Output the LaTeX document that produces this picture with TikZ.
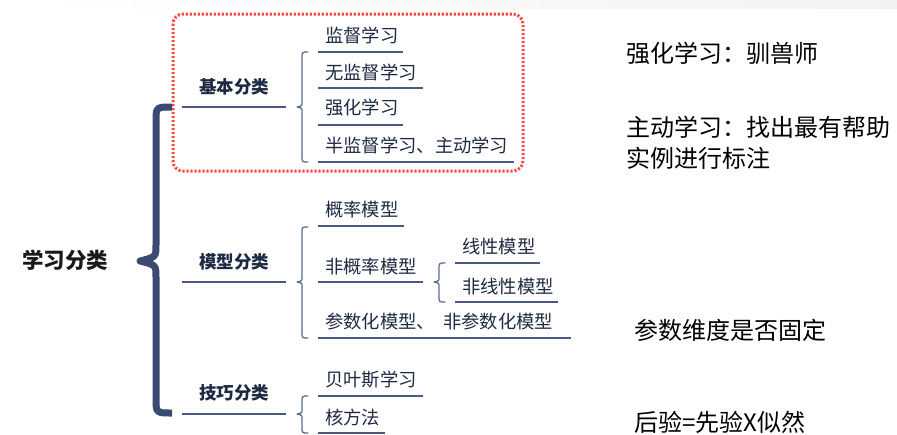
\documentclass[tikz,border=0pt]{standalone}
\usepackage{fontspec}
\setmainfont{Noto Sans CJK SC}
\newfontfamily\cjk{Noto Sans CJK SC}
\definecolor{navy}{HTML}{3A4A72}
\definecolor{itemtxt}{HTML}{1E2A44}
\definecolor{linec}{HTML}{4A5A82}
\definecolor{redbox}{HTML}{FF4A4A}
\tikzset{
  item/.style={anchor=west,inner sep=0pt,font=\cjk\fontsize{18.3}{21}\selectfont,text=itemtxt},
  cat/.style={anchor=center,inner sep=0pt,font=\cjk\bfseries\fontsize{17.5}{20}\selectfont,text=itemtxt},
  note/.style={anchor=west,inner sep=0pt,font=\cjk\fontsize{24}{31}\selectfont,text=black,align=left},
  uline/.style={draw=linec,line width=1.4pt},
  sbrace/.style={draw=linec!90,line width=1.3pt,line join=round,line cap=round},
}
\newcommand{\mybrace}[5][sbrace]{% x, ytop, ytip, ybot
  \draw[#1] ({#2+6},#3) .. controls ({#2},#3) and ({#2},#3) .. ({#2},{#3+6})
    -- ({#2},{#4-5}) .. controls ({#2},{#4-1}) .. ({#2-5},#4)
    .. controls ({#2},{#4+1}) .. ({#2},{#4+5})
    -- ({#2},{#5-6}) .. controls ({#2},#5) and ({#2},#5) .. ({#2+6},#5);}
\begin{document}
\begin{tikzpicture}[x=1pt,y=-1pt]
\useasboundingbox (0,0) rectangle (897,434);
\fill[left color=white,right color=black!5] (30,0) rectangle (897,8);
% red dotted box
\draw[redbox,line width=3pt,dash pattern=on 2.2pt off 1.8pt,rounded corners=10pt] (173,14) rectangle (523,171);
% root
\node[cat,font=\cjk\bfseries\fontsize{21.5}{24}\selectfont,text=black!90] (root) at (65,260) {学习分类};
% big brace
\draw[navy,line width=7pt,line join=round] (172,107) .. controls (156,107) .. (156,122)
  -- (156,245) .. controls (156,257) .. (140,261)
  .. controls (156,265) .. (156,277)
  -- (156,398) .. controls (156,413) .. (172,413);
% categories
\node[cat] (c1) at (234,87) {基本分类};
\node[cat] (c2) at (234,262) {模型分类};
\node[cat] (c3) at (234,393) {技巧分类};
\coordinate (c1a) at (182,107); \coordinate (c1b) at (286,107);
\coordinate (c2a) at (182,282); \coordinate (c2b) at (286,282);
\coordinate (c3a) at (182,414); \coordinate (c3b) at (286,414);
\draw[uline] (c1a) -- (c1b);
\draw[uline] (c2a) -- (c2b);
\draw[uline] (c3a) -- (c3b);
% small braces
\mybrace{302}{52}{107}{162}
\mybrace{302}{227}{282}{338}
\mybrace{302}{396}{414}{433}
\mybrace{439}{263}{282}{302}
% basic items
\node[item] (a1) at (325,35) {监督学习};
\node[item] (a2) at (325,72) {无监督学习};
\node[item] (a3) at (325,108) {强化学习};
\node[item] (a4) at (325,145) {半监督学习、主动学习};
\draw[uline] (318,52) -- (403,52);
\draw[uline] (318,88) -- (423,88);
\draw[uline] (318,125) -- (403,125);
\draw[uline] (318,162) -- (514,162);
% model items
\node[item] (m1) at (325,210) {概率模型};
\node[item] (m2) at (325,267) {非概率模型};
\node[item] (m3) at (462,247) {线性模型};
\node[item] (m4) at (462,287) {非线性模型};
\node[item] (m5) at (325,322) {参数化模型、\hspace{0.45em}非参数化模型};
\draw[uline] (318,226) -- (404,226);
\draw[uline] (318,282) -- (423,282);
\draw[uline] (455,263) -- (540,263);
\draw[uline] (455,302) -- (558,302);
\draw[uline] (318,338) -- (571,338);
% skill items
\node[item] (s1) at (325,380) {贝叶斯学习};
\node[item] (s2) at (325,418) {核方法};
\draw[uline] (318,396) -- (423,396);
\draw[uline] (318,433) -- (385,433);
% notes
\node[note] (n1) at (626,53) {强化学习：驯兽师};
\node[note] (n2) at (626,143) {主动学习：找出最有帮助\\实例进行标注};
\node[note] (n3) at (634,330) {参数维度是否固定};
\node[note] (n4) at (634,422) {后验=先验X似然};
\end{tikzpicture}
\end{document}
